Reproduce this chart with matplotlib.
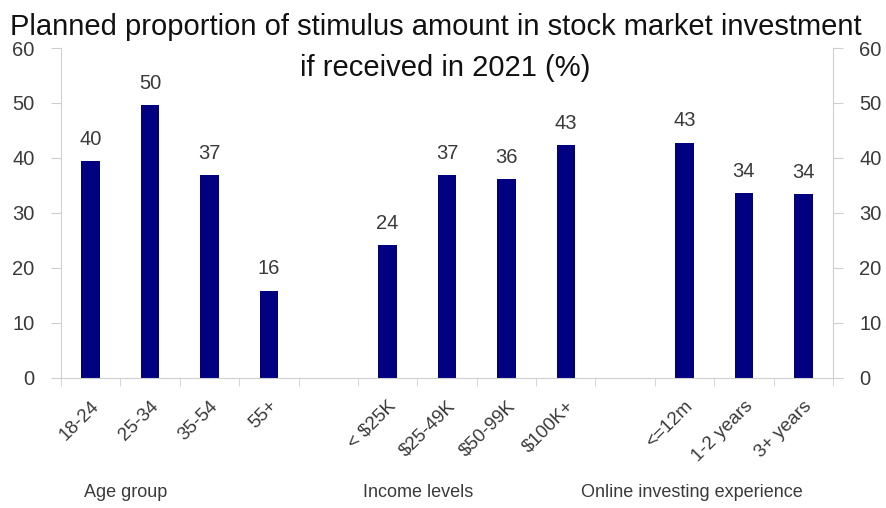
import matplotlib
matplotlib.use("Agg")
import matplotlib.pyplot as plt

# datos
categorias = ["18-24", "25-34", "35-54", "55+",
              "< $25K", "$25-49K", "$50-99K", "$100K+",
              "<=12m", "1-2 years", "3+ years"]
valores = [39.5, 49.7, 36.9, 15.9, 24.2, 36.9, 36.1, 42.3, 42.8, 33.6, 33.5]
etiquetas = ["40", "50", "37", "16", "24", "37", "36", "43", "43", "34", "34"]
grupos = ["Age group", "Income levels", "Online investing experience"]
posiciones = [0, 1, 2, 3, 5, 6, 7, 8, 10, 11, 12]

plt.rcParams["font.family"] = ["Liberation Sans", "DejaVu Sans"]
gris = "#cfcfcf"
texto = "#3a3a3a"

fig = plt.figure(figsize=(8.86, 5.08), dpi=100)
ax = fig.add_axes([0.0688, 0.256, 0.8714, 0.6495])

ax.bar(posiciones, valores, width=0.31, color="#000080")
for x, v, t in zip(posiciones, valores, etiquetas):
    ax.text(x, v + 2.2, t, ha="center", va="bottom", fontsize=14.5, color=texto)

ax.set_xlim(-0.5, 12.5)
ax.set_ylim(0, 60)
ax.set_yticks(range(0, 61, 10))
ax.tick_params(axis="y", which="both", left=True, right=True, labelleft=True,
               labelright=True, length=7, color=gris, labelsize=14.5,
               labelcolor=texto, pad=12)

ax.set_xticks(posiciones)
ax.set_xticklabels(categorias, rotation=45, ha="right", rotation_mode="anchor",
                   fontsize=13.5, color=texto)
ax.set_xticks([i - 0.5 for i in range(14)], minor=True)
ax.tick_params(axis="x", which="major", length=0, pad=14)
ax.tick_params(axis="x", which="minor", length=6, color=gris)

for lado in ["left", "right", "bottom"]:
    ax.spines[lado].set_color(gris)
ax.spines["top"].set_visible(False)

fig.text(0.142, 0.031, grupos[0], ha="center", va="center", fontsize=13, color=texto)
fig.text(0.472, 0.031, grupos[1], ha="center", va="center", fontsize=13, color=texto)
fig.text(0.781, 0.031, grupos[2], ha="center", va="center", fontsize=13, color=texto)

fig.text(0.492, 0.946, "Planned proportion of stimulus amount in stock market investment",
         ha="center", va="center", fontsize=21, color="#111111")
fig.text(0.502, 0.866, "if received in 2021 (%)",
         ha="center", va="center", fontsize=21, color="#111111")

plt.savefig("out.png", dpi=100)
plt.close()
